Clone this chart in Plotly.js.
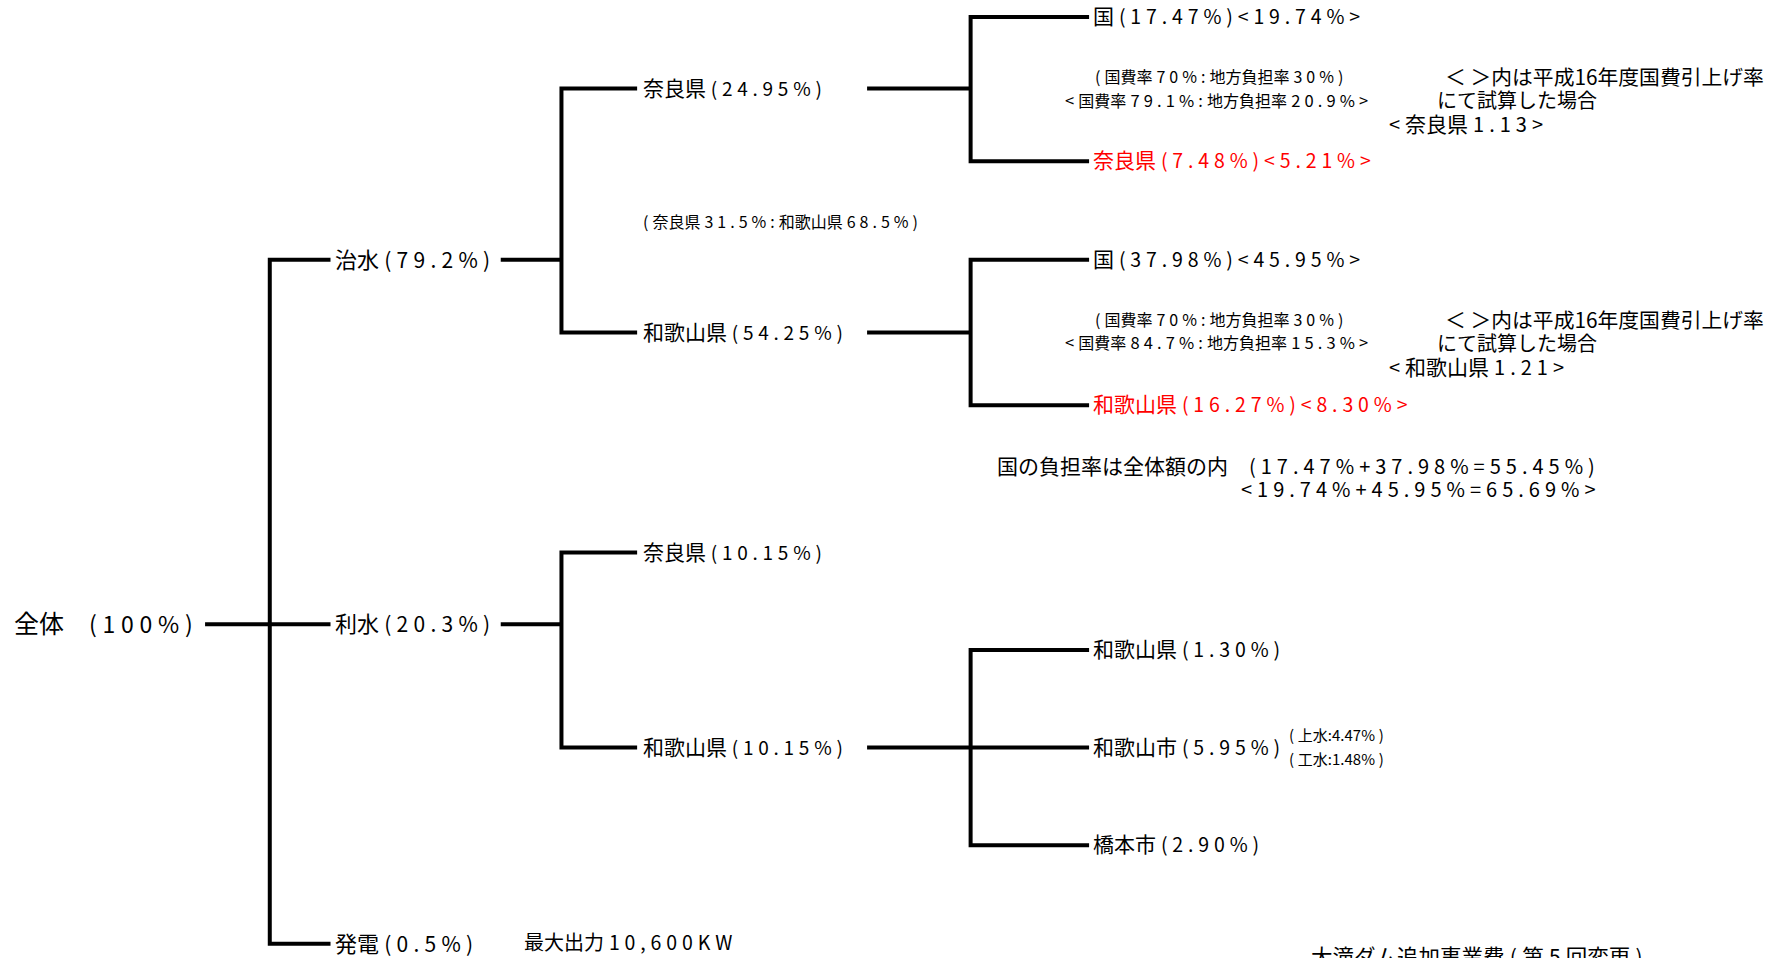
<!DOCTYPE html>
<html><head><meta charset="utf-8">
<script src="https://cdn.plot.ly/plotly-3.0.1.min.js"></script>
<style>html,body{margin:0;padding:0;background:#fff;overflow:hidden}</style>
</head><body><div id="chart" style="width:1784px;height:958px"></div>
<script>
// ---- data ----
const rootName = '全体';
const rootPct = 100;
const purposeNames = ['治水', '利水', '発電'];
const purposePct = [79.2, 20.3, 0.5];
const floodNames = ['奈良県', '和歌山県'];
const floodPct = [24.95, 54.25];
const floodRatio = [31.5, 68.5];
const waterNames = ['奈良県', '和歌山県'];
const waterPct = [10.15, 10.15];
const naraShareNames = ['国', '奈良県'];
const naraSharePct = [17.47, 7.48];
const naraShareH16 = [19.74, 5.21];
const naraSubsidy = [70, 30];
const naraSubsidyH16 = [79.1, 20.9];
const wakaShareNames = ['国', '和歌山県'];
const wakaSharePct = [37.98, 16.27];
const wakaShareH16 = [45.95, 8.30];
const wakaSubsidy = [70, 30];
const wakaSubsidyH16 = [84.7, 15.3];
const raisePref = ['奈良県', '和歌山県'];
const raiseRate = [1.13, 1.21];
const wakaWaterNames = ['和歌山県', '和歌山市', '橋本市'];
const wakaWaterPct = [1.30, 5.95, 2.90];
const cityUseNames = ['上水', '工水'];
const cityUsePct = [4.47, 1.48];
const maxOutputKW = 10600;
const footTitle = '大滝ダム追加事業費(第5回変更)';

// ---- diagram geometry ----
const S = 0.9955;
const G = {
  rootX: 14, rootLine0: 206, trunk0: 271, l1End: 332, l1Text: 337,
  l1Conn: 503, trunk1: 564, l2End: 640, l2Text: 646,
  l2Conn: 871, trunk2: 975, l3End: 1094, l3Text: 1098,
  rowsPurpose: [261, 627, 948], rowsFlood: [89, 334], rowsWater: [555, 751],
  rowsNara: [17, 162], rowsWaka: [261, 407], rowsWW: [653, 751, 849]
};
const FONT = 'Noto Sans CJK JP';
const RED = '#ff0000';
const SPC = '\u2005';
const TX = -2, TY = -2;

const CJK = /[\u3040-\u30ff\u4e00-\u9fff\u3000]+|[^\u3040-\u30ff\u4e00-\u9fff\u3000]+/g;
function mixed(s, k) {
  return s.match(CJK).map(t => /[\u3040-\u30ff\u4e00-\u9fff\u3000]/.test(t[0])
    ? `<span style="font-size:${k}px">${t}</span>`
    : t.split('').join(SPC).replace(/</g, '&lt;').replace(/>/g, '&gt;')).join(SPC);
}
const pct = (v, d) => v.toFixed(d) + '%';

const xs = [], ys = [];
function poly(pts) { pts.forEach(p => { xs.push(p[0] * S); ys.push(p[1] * S); }); xs.push(null); ys.push(null); }
function bracket(trunkX, endX, rows, startX, parentY) {
  const top = rows[0], bot = rows[rows.length - 1];
  poly([[endX, top], [trunkX, top], [trunkX, bot], [endX, bot]]);
  rows.slice(1, -1).forEach(r => poly([[trunkX, r], [endX, r]]));
  poly([[startX, parentY], [trunkX, parentY]]);
}
bracket(G.trunk0, G.l1End, G.rowsPurpose, G.rootLine0, G.rowsPurpose[1]);
bracket(G.trunk1, G.l2End, G.rowsFlood, G.l1Conn, G.rowsPurpose[0]);
bracket(G.trunk1, G.l2End, G.rowsWater, G.l1Conn, G.rowsPurpose[1]);
bracket(G.trunk2, G.l3End, G.rowsNara, G.l2Conn, G.rowsFlood[0]);
bracket(G.trunk2, G.l3End, G.rowsWaka, G.l2Conn, G.rowsFlood[1]);
bracket(G.trunk2, G.l3End, G.rowsWW, G.l2Conn, G.rowsWater[1]);

const anns = [];
function ann(x, y, text, size, color, yanchor) {
  anns.push({ x: x * S + TX, y: y * S + TY, xref: 'x', yref: 'y', text: text, showarrow: false,
    xanchor: 'left', yanchor: yanchor || 'middle', align: 'left',
    font: { family: FONT, size: size, color: color || '#000' } });
}

// root
ann(G.rootX, G.rowsPurpose[1], `<span style="font-size:25px">${rootName}　</span>` + mixed('(' + rootPct + '%)', 25), 23);
// purposes
purposeNames.forEach((n, i) => ann(G.l1Text, G.rowsPurpose[i], mixed(n + '(' + pct(purposePct[i], 1) + ')', 22), 21));
ann(526, G.rowsPurpose[2], mixed('最大出力' + maxOutputKW.toLocaleString('en-US') + 'KW', 20), 19.5);
// flood prefectures
floodNames.forEach((n, i) => ann(G.l2Text, G.rowsFlood[i], mixed(n + '(' + pct(floodPct[i], 2) + ')', 21), 19));
ann(G.l2Text, 224, mixed('(' + floodNames[0] + pct(floodRatio[0], 1) + ':' + floodNames[1] + pct(floodRatio[1], 1) + ')', 16), 16);
// water prefectures
waterNames.forEach((n, i) => ann(G.l2Text, G.rowsWater[i], mixed(n + '(' + pct(waterPct[i], 2) + ')', 21), 19));

// national / prefecture shares
function shareBlock(names, p, h16, rows, sub, subH16, noteY, pref, rate) {
  names.forEach((n, i) => ann(G.l3Text, rows[i],
    mixed(n + '(' + pct(p[i], 2) + ')<' + pct(h16[i], 2) + '>', 21), 19.5, i === names.length - 1 ? RED : '#000'));
  ann(1100, noteY, mixed('(国費率' + sub[0] + '%:地方負担率' + sub[1] + '%)', 16), 16);
  ann(1070, noteY + 24, mixed('<国費率' + subH16[0].toFixed(1) + '%:地方負担率' + subH16[1].toFixed(1) + '%>', 16), 16.5);
  ann(1452, noteY, '＜ ＞内は平成16年度国費引上げ率', 20.8);
  ann(1443, noteY + 24, 'にて試算した場合', 20);
  ann(1395, noteY + 48, mixed('<' + pref + rate.toFixed(2) + '>', 21), 20);
}
shareBlock(naraShareNames, naraSharePct, naraShareH16, G.rowsNara, naraSubsidy, naraSubsidyH16, 78, raisePref[0], raiseRate[0]);
shareBlock(wakaShareNames, wakaSharePct, wakaShareH16, G.rowsWaka, wakaSubsidy, wakaSubsidyH16, 322, raisePref[1], raiseRate[1]);

const natNow = naraSharePct[0] + wakaSharePct[0];
const natH16 = naraShareH16[0] + wakaShareH16[0];
ann(1002, 469, `<span style="font-size:21px">国の負担率は全体額の内　</span>` +
  mixed('(' + pct(naraSharePct[0], 2) + '+' + pct(wakaSharePct[0], 2) + '=' + pct(natNow, 2) + ')', 21), 20);
ann(1247, 493, mixed('<' + pct(naraShareH16[0], 2) + '+' + pct(wakaShareH16[0], 2) + '=' + pct(natH16, 2) + '>', 21), 20);

// Wakayama water users
wakaWaterNames.forEach((n, i) => ann(G.l3Text, G.rowsWW[i], mixed(n + '(' + pct(wakaWaterPct[i], 2) + ')', 21), 19.5));
cityUseNames.forEach((n, i) => ann(1295, 740 + 24 * i, '(' + SPC + n + ':' + pct(cityUsePct[i], 2) + SPC + ')', 15));

// footer title (cut at bottom edge)
ann(1317, 944, mixed(footTitle, 21.5), 21, '#000', 'top');

const data = [{ type: 'scatter', mode: 'lines', x: xs, y: ys, hoverinfo: 'skip',
  line: { color: '#000', width: 4 }, connectgaps: false }];

const layout = {
  width: 1784, height: 958, margin: { l: 0, r: 0, t: 0, b: 0 },
  paper_bgcolor: '#fff', plot_bgcolor: '#fff', showlegend: false,
  xaxis: { range: [0, 1784], visible: false, fixedrange: true },
  yaxis: { range: [958, 0], visible: false, fixedrange: true },
  annotations: anns
};
Plotly.newPlot('chart', data, layout, { displayModeBar: false, staticPlot: true });
</script></body></html>
